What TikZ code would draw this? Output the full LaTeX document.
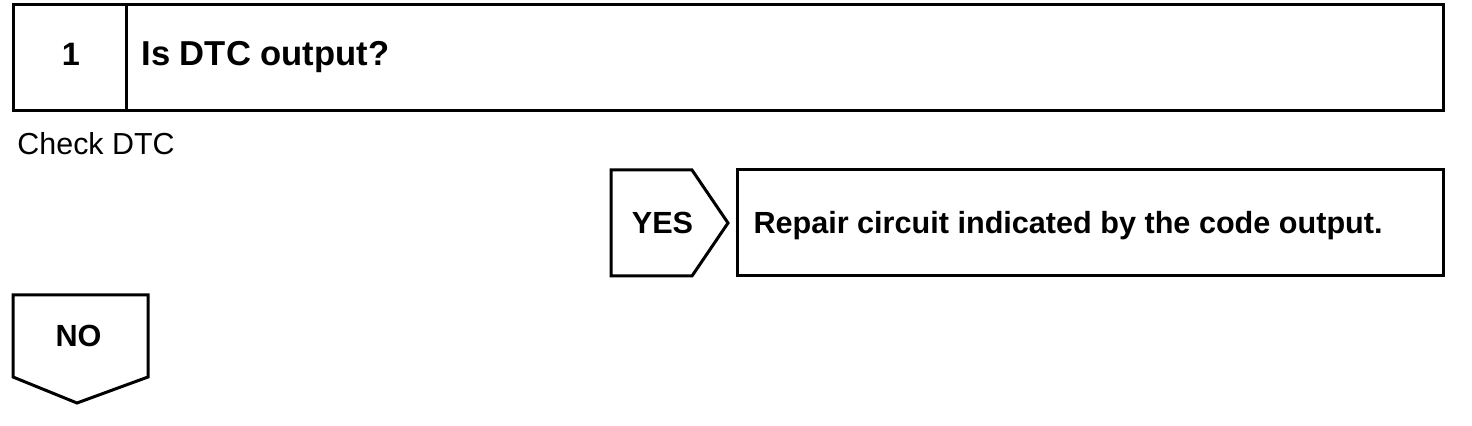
\documentclass[tikz,border=0pt]{standalone}
\usepackage{fontspec}
\setmainfont{Liberation Sans}
\begin{document}
\begin{tikzpicture}[x=0.5pt,y=-0.5pt,line width=1.5pt,
  boxtext/.style={font=\fontsize{15.3}{18}\selectfont\bfseries,inner sep=0pt},
  titletext/.style={font=\fontsize{17.3}{20}\selectfont\bfseries,inner sep=0pt},
  plaintext/.style={font=\fontsize{15.2}{18}\selectfont,inner sep=0pt}]
  \useasboundingbox (0,0) rectangle (1472,426);

  % step header
  \draw (13,5) rectangle (1443,111);
  \draw (126,5) -- (126,111);
  \node[titletext,font=\fontsize{16.2}{20}\selectfont\bfseries,anchor=base] (num) at (71,66) {1};
  \node[titletext,anchor=base west] (title) at (140,66) {Is DTC output?};

  % note below the header
  \node[plaintext,anchor=base west] (note) at (16,155) {Check DTC};

  % yes branch
  \draw (611,170) -- (692,170) -- (728,223) -- (692,276) -- (611,276) -- cycle;
  \node[boxtext,anchor=base] (yes) at (662.5,234) {YES};
  \draw (737,170) rectangle (1443,276);
  \node[boxtext,anchor=base west] (repair) at (752,234) {Repair circuit indicated by the code output.};

  % no branch
  \draw (13,295) -- (148,295) -- (148,377) -- (77,403) -- (13,377) -- cycle;
  \node[boxtext,anchor=base] (no) at (78.5,347) {NO};
\end{tikzpicture}
\end{document}
